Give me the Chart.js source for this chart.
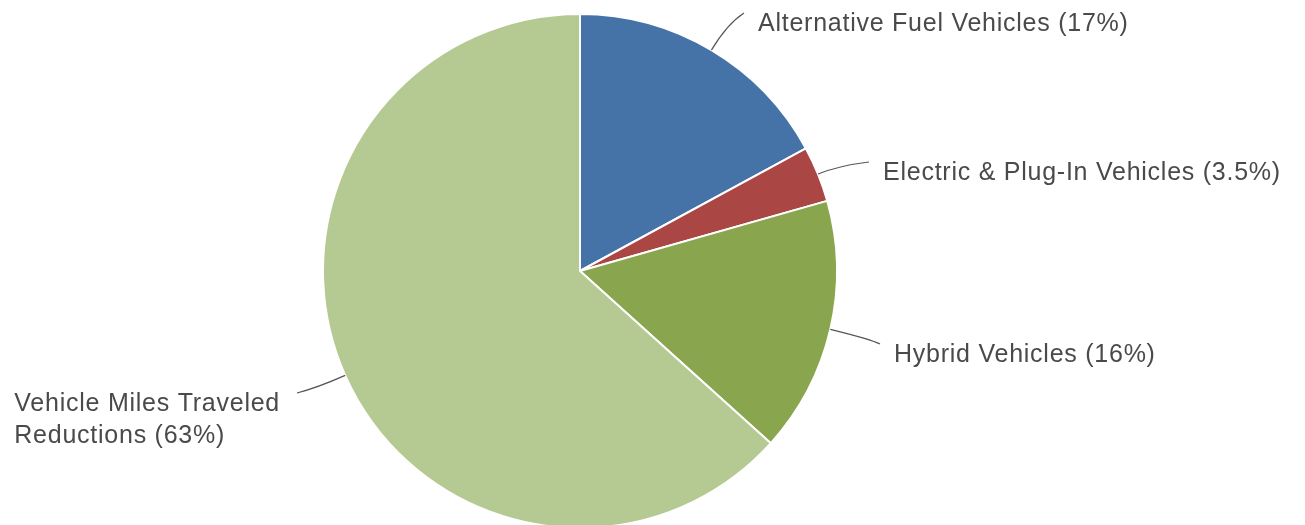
<!DOCTYPE html>
<html>
<head>
<meta charset="utf-8">
<script src="https://cdn.jsdelivr.net/npm/chart.js@4/dist/chart.umd.min.js"></script>
<style>
  html, body { margin: 0; padding: 0; background: #fff; overflow: hidden; }
  #wrap { position: absolute; left: 0; top: 0; width: 1305px; height: 530px; }
</style>
</head>
<body>
<div id="wrap"><canvas id="myChart"></canvas></div>
<script>
const categories = ['Alternative Fuel Vehicles', 'Electric & Plug-In Vehicles', 'Hybrid Vehicles', 'Vehicle Miles Traveled Reductions']
const shares = [17, 3.5, 16, 63]
const pctLabels = ['17%', '3.5%', '16%', '63%']
const colors = ['#4572A7', '#AA4643', '#89A54E', '#B5CA92']

// where each connector ends, relative to the pie centre, and how the text wraps
const labelSpots = [
  { dx: 164, dy: -258, lines: null },
  { dx: 289, dy: -109, lines: null },
  { dx: 300, dy: 73, lines: null },
  { dx: -283, dy: 122, lines: ['Vehicle Miles Traveled', 'Reductions (63%)'] }
]

const pieLabels = {
  id: 'pieLabels',
  afterDraw(chart) {
    const ctx = chart.ctx
    const arcs = chart.getDatasetMeta(0).data
    ctx.save()
    ctx.font = '25px "Liberation Sans", Arial, sans-serif'
    ctx.letterSpacing = '0.75px'
    ctx.textBaseline = 'middle'
    arcs.forEach(function(arc, i) {
      const mid = (arc.startAngle + arc.endAngle) / 2
      const r = arc.outerRadius
      const sx = arc.x + Math.cos(mid) * r
      const sy = arc.y + Math.sin(mid) * r
      const spot = labelSpots[i]
      const ex = arc.x + spot.dx
      const ey = arc.y + spot.dy
      const side = spot.dx > 0 ? 1 : -1

      // soft connector: head out along the radius, then bend into the label
      let t = (ey - sy) / Math.sin(mid)
      if (!isFinite(t) || t < 0) t = 20
      t *= 0.7
      let cx = sx + Math.cos(mid) * t
      let cy = sy + Math.sin(mid) * t
      if (side > 0) cx = Math.min(cx, ex - 8)
      else cx = Math.max(cx, ex + 8)
      ctx.strokeStyle = '#555555'
      ctx.lineWidth = 1.2
      ctx.beginPath()
      ctx.moveTo(sx, sy)
      ctx.quadraticCurveTo(cx, cy, ex, ey)
      ctx.stroke()

      const lines = spot.lines || [categories[i] + ' (' + pctLabels[i] + ')']
      ctx.fillStyle = '#4a4a4a'
      ctx.textAlign = 'left'
      const lh = 32
      const ty = ey + 11
      if (side > 0) {
        lines.forEach(function(l, k) { ctx.fillText(l, ex + 14, ty + k * lh) })
      } else {
        const w = Math.max.apply(null, lines.map(function(l) { return ctx.measureText(l).width }))
        lines.forEach(function(l, k) { ctx.fillText(l, ex - 17 - w, ty + k * lh) })
      }
    })
    ctx.restore()
  }
}

const ctx = document.getElementById('myChart').getContext('2d')
const chart = new Chart(ctx, {
  type: 'pie',
  data: {
    labels: categories,
    datasets: [{
      data: shares,
      backgroundColor: colors,
      borderColor: '#ffffff',
      borderWidth: 2
    }]
  },
  options: {
    responsive: true,
    maintainAspectRatio: false,
    animation: false,
    layout: { padding: { top: 13, bottom: 1, left: 0, right: 145 } },
    plugins: {
      legend: { display: false },
      tooltip: { enabled: false }
    }
  },
  plugins: [pieLabels]
})
</script>
</body>
</html>
